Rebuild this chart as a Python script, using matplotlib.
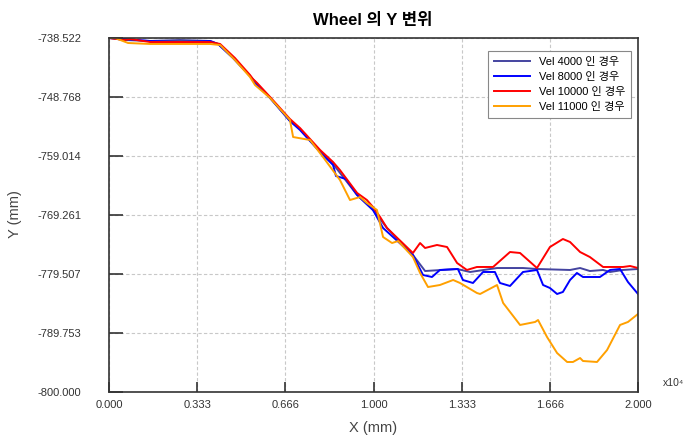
import matplotlib
matplotlib.use("Agg")
import matplotlib.pyplot as plt
from matplotlib.ticker import FixedLocator

plt.rcParams["font.family"] = ["Liberation Sans", "Noto Sans CJK KR", "DejaVu Sans"]

# x in units of 10^4 mm, y in mm
x_4000 = [0, 0.060, 0.155, 0.268, 0.382, 0.412, 0.469, 0.533, 0.609, 0.684, 0.722, 0.798,
          0.847, 0.938, 0.998, 1.051, 1.149, 1.195, 1.316, 1.365, 1.467, 1.565, 1.618, 1.743,
          1.781, 1.818, 1.868, 1.894, 1.943, 2.0]
y_4000 = [-738.52, -738.87, -739.04, -738.87, -739.04, -739.56, -741.99, -745.12, -748.94,
          -752.94, -754.33, -758.32, -760.40, -765.79, -768.39, -771.52, -776.21, -778.99,
          -778.64, -779.16, -778.47, -778.47, -778.64, -778.81, -778.47, -778.99, -778.81,
          -779.16, -778.81, -778.64]

x_8000 = [0, 0.060, 0.155, 0.268, 0.382, 0.412, 0.469, 0.533, 0.552, 0.609, 0.684, 0.722,
          0.798, 0.847, 0.858, 0.896, 0.938, 0.998, 1.036, 1.149, 1.187, 1.221, 1.251, 1.319,
          1.338, 1.376, 1.414, 1.459, 1.478, 1.516, 1.565, 1.618, 1.641, 1.667, 1.694, 1.716,
          1.743, 1.769, 1.792, 1.856, 1.894, 1.932, 1.962, 2.0]
y_8000 = [-738.52, -738.70, -739.04, -739.22, -739.04, -739.56, -741.99, -745.12, -746.34,
          -748.94, -752.94, -754.50, -758.32, -760.58, -762.49, -763.01, -765.79, -768.39,
          -771.52, -776.21, -779.68, -780.03, -778.81, -778.64, -780.55, -781.07, -779.16,
          -779.16, -781.07, -781.59, -779.16, -778.81, -781.42, -781.94, -782.98, -782.63,
          -780.55, -779.33, -780.03, -780.03, -778.81, -778.64, -780.90, -782.98]

x_10000 = [0, 0.060, 0.079, 0.155, 0.268, 0.382, 0.420, 0.476, 0.533, 0.544, 0.560, 0.609,
           0.684, 0.722, 0.798, 0.847, 0.873, 0.938, 0.975, 0.998, 1.025, 1.051, 1.149, 1.176,
           1.195, 1.240, 1.278, 1.316, 1.353, 1.391, 1.452, 1.516, 1.554, 1.618, 1.667, 1.716,
           1.743, 1.781, 1.818, 1.868, 1.943, 1.970, 2.0]
y_10000 = [-738.52, -738.87, -738.70, -739.22, -739.22, -739.22, -739.56, -741.99, -744.95,
           -745.64, -746.34, -748.77, -752.59, -754.15, -757.97, -760.06, -761.45, -765.44,
           -766.66, -767.87, -769.61, -771.52, -775.86, -774.13, -774.99, -774.47, -774.82,
           -777.60, -778.81, -778.29, -778.29, -775.69, -775.86, -778.47, -774.82, -773.43,
           -773.95, -775.69, -776.56, -778.29, -778.29, -778.12, -778.47]

x_11000 = [0, 0.023, 0.072, 0.155, 0.268, 0.382, 0.420, 0.476, 0.533, 0.552, 0.609, 0.684,
           0.696, 0.760, 0.809, 0.873, 0.911, 0.949, 0.975, 1.013, 1.036, 1.070, 1.093, 1.149,
           1.176, 1.206, 1.251, 1.301, 1.327, 1.391, 1.403, 1.467, 1.490, 1.554, 1.611, 1.622,
           1.656, 1.694, 1.732, 1.754, 1.781, 1.792, 1.845, 1.883, 1.932, 1.962, 2.0]
y_11000 = [-738.52, -738.52, -739.39, -739.56, -739.56, -739.56, -739.74, -742.34, -745.30,
           -746.69, -748.94, -752.76, -755.72, -756.24, -759.19, -763.18, -766.66, -766.14,
           -767.18, -768.39, -773.08, -774.13, -773.78, -776.56, -779.33, -781.77, -781.42,
           -780.55, -781.07, -782.81, -782.98, -781.42, -784.54, -788.36, -787.84, -787.50,
           -790.45, -793.23, -794.79, -794.79, -794.10, -794.62, -794.79, -792.71, -788.36,
           -787.84, -786.45]

x_ticks = [0.0, 0.333, 0.666, 1.0, 1.333, 1.666, 2.0]
y_ticks = [-800.000, -789.753, -779.507, -769.261, -759.014, -748.768, -738.522]

series = [
    (x_4000, y_4000, "#4444a0", "Vel 4000 인 경우"),
    (x_8000, y_8000, "#0000ff", "Vel 8000 인 경우"),
    (x_10000, y_10000, "#ff0000", "Vel 10000 인 경우"),
    (x_11000, y_11000, "#ffa000", "Vel 11000 인 경우"),
]

fig = plt.figure(figsize=(6.87, 4.46), dpi=100)
ax = fig.add_axes([0.1587, 0.1211, 0.7700, 0.7937])

for xs, ys, c, lab in series:
    ax.plot(xs, ys, color=c, lw=1.4, label=lab)

ax.set_xlim(0, 2.0)
ax.set_ylim(-800.0, -738.522)
ax.xaxis.set_major_locator(FixedLocator(x_ticks))
ax.yaxis.set_major_locator(FixedLocator(y_ticks))
ax.set_xticklabels([f"{t:.3f}" for t in x_ticks])
ax.set_yticklabels([f"{t:.3f}" for t in y_ticks])
ax.tick_params(direction="in", width=1.2, labelsize=8, colors="#333333")
ax.tick_params(axis="y", length=10, pad=20)
ax.tick_params(axis="x", length=7, pad=6)
ax.grid(True, color="#c8c8c8", ls=(0, (3, 2)), lw=0.8)

for s in ax.spines.values():
    s.set_color("#333333")
    s.set_linewidth(1.2)

fig.text(0.542, 1 - 20 / 446, "Wheel 의 Y 변위", fontsize=12, fontweight="bold",
         ha="center", va="center")
ax.set_xlabel("X (mm)", fontsize=10.5, color="#444444", labelpad=8)
fig.text(15 / 687, 1 - 214 / 446, "Y (mm)", fontsize=10.5, color="#444444",
         rotation=90, ha="center", va="center")
fig.text(0.965, 0.135, "x10⁴", fontsize=7.5, color="#333333")

leg = ax.legend(loc="upper right", bbox_to_anchor=(0.998, 0.979), fontsize=8,
                fancybox=False, framealpha=1, edgecolor="#888888",
                handlelength=3.2, borderpad=0.55, labelspacing=0.45)
leg.get_frame().set_linewidth(0.8)

fig.savefig("out.png", dpi=100)
